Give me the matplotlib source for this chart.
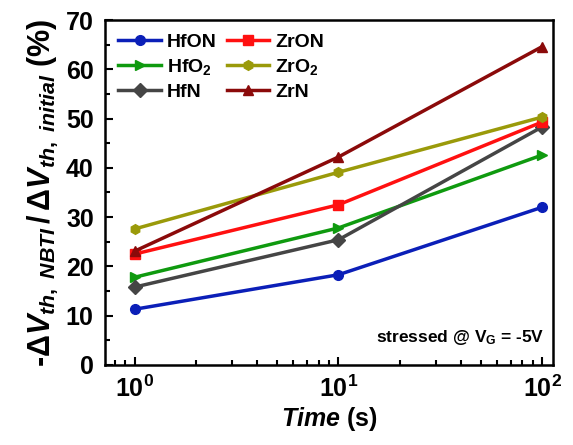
import numpy as np
import matplotlib
matplotlib.use("Agg")
import matplotlib.pyplot as plt
from matplotlib.ticker import LogLocator, MultipleLocator, NullFormatter

plt.rcParams['font.family'] = ['Liberation Sans', 'DejaVu Sans']
plt.rcParams['font.weight'] = 'bold'
plt.rcParams['mathtext.fontset'] = 'custom'
plt.rcParams['mathtext.rm'] = 'Liberation Sans:bold'
plt.rcParams['mathtext.it'] = 'Liberation Sans:bold:italic'
plt.rcParams['mathtext.bf'] = 'Liberation Sans:bold'

# Data
time_s = [1, 10, 100]
hfon = [11.3, 18.3, 32.0]
hfo2 = [17.8, 27.8, 42.6]
hfn = [15.8, 25.4, 48.3]
zron = [22.5, 32.5, 49.3]
zro2 = [27.6, 39.1, 50.3]
zrn = [23.1, 42.2, 64.6]

series = [
    ("HfON", hfon, "#0b1fb8", "o"),
    ("HfO$_2$", hfo2, "#0f9a0f", ">"),
    ("HfN", hfn, "#454545", "D"),
    ("ZrON", zron, "#ff1010", "s"),
    ("ZrO$_2$", zro2, "#9a9a0a", "h"),
    ("ZrN", zrn, "#8b0a0a", "^"),
]

fig, ax = plt.subplots(figsize=(5.73, 4.45), dpi=100)
fig.subplots_adjust(left=0.183, right=0.965, top=0.955, bottom=0.18)

for name, vals, col, mk in series:
    ax.plot(time_s, vals, color=col, marker=mk, lw=2.5, ms=7, label=name)

ax.set_xscale('log')
ax.set_xlim(0.713, 113)
ax.set_ylim(0, 70)
ax.yaxis.set_major_locator(MultipleLocator(10))
ax.yaxis.set_minor_locator(MultipleLocator(5))
ax.xaxis.set_major_locator(LogLocator(base=10))
ax.xaxis.set_minor_locator(LogLocator(base=10, subs=np.arange(2, 10)))
ax.xaxis.set_minor_formatter(NullFormatter())
ax.tick_params(which='both', direction='in', width=1.5)
ax.tick_params(which='major', length=6, labelsize=18, pad=8)
ax.tick_params(which='minor', length=3.5)
for sp in ax.spines.values():
    sp.set_linewidth(1.8)

ax.set_xlabel(r'$\it{Time}$ (s)', fontsize=18, fontweight='bold', labelpad=2)
ax.set_ylabel(r'-$\Delta V_{th,\ NBTI}\,/\,\Delta V_{th,\ initial}$ (%)',
              fontsize=22, fontweight='bold', labelpad=4)

ax.legend(ncol=2, loc='upper left', frameon=False, fontsize=14,
          handlelength=2.2, handletextpad=0.3, columnspacing=0.5,
          labelspacing=0.3, borderaxespad=0.3)

ax.text(0.98, 0.08, r'stressed @ V$_\mathrm{G}$ = -5V', transform=ax.transAxes,
        ha='right', va='center', fontsize=12.5, fontweight='bold')

fig.savefig("out.png", dpi=100)
